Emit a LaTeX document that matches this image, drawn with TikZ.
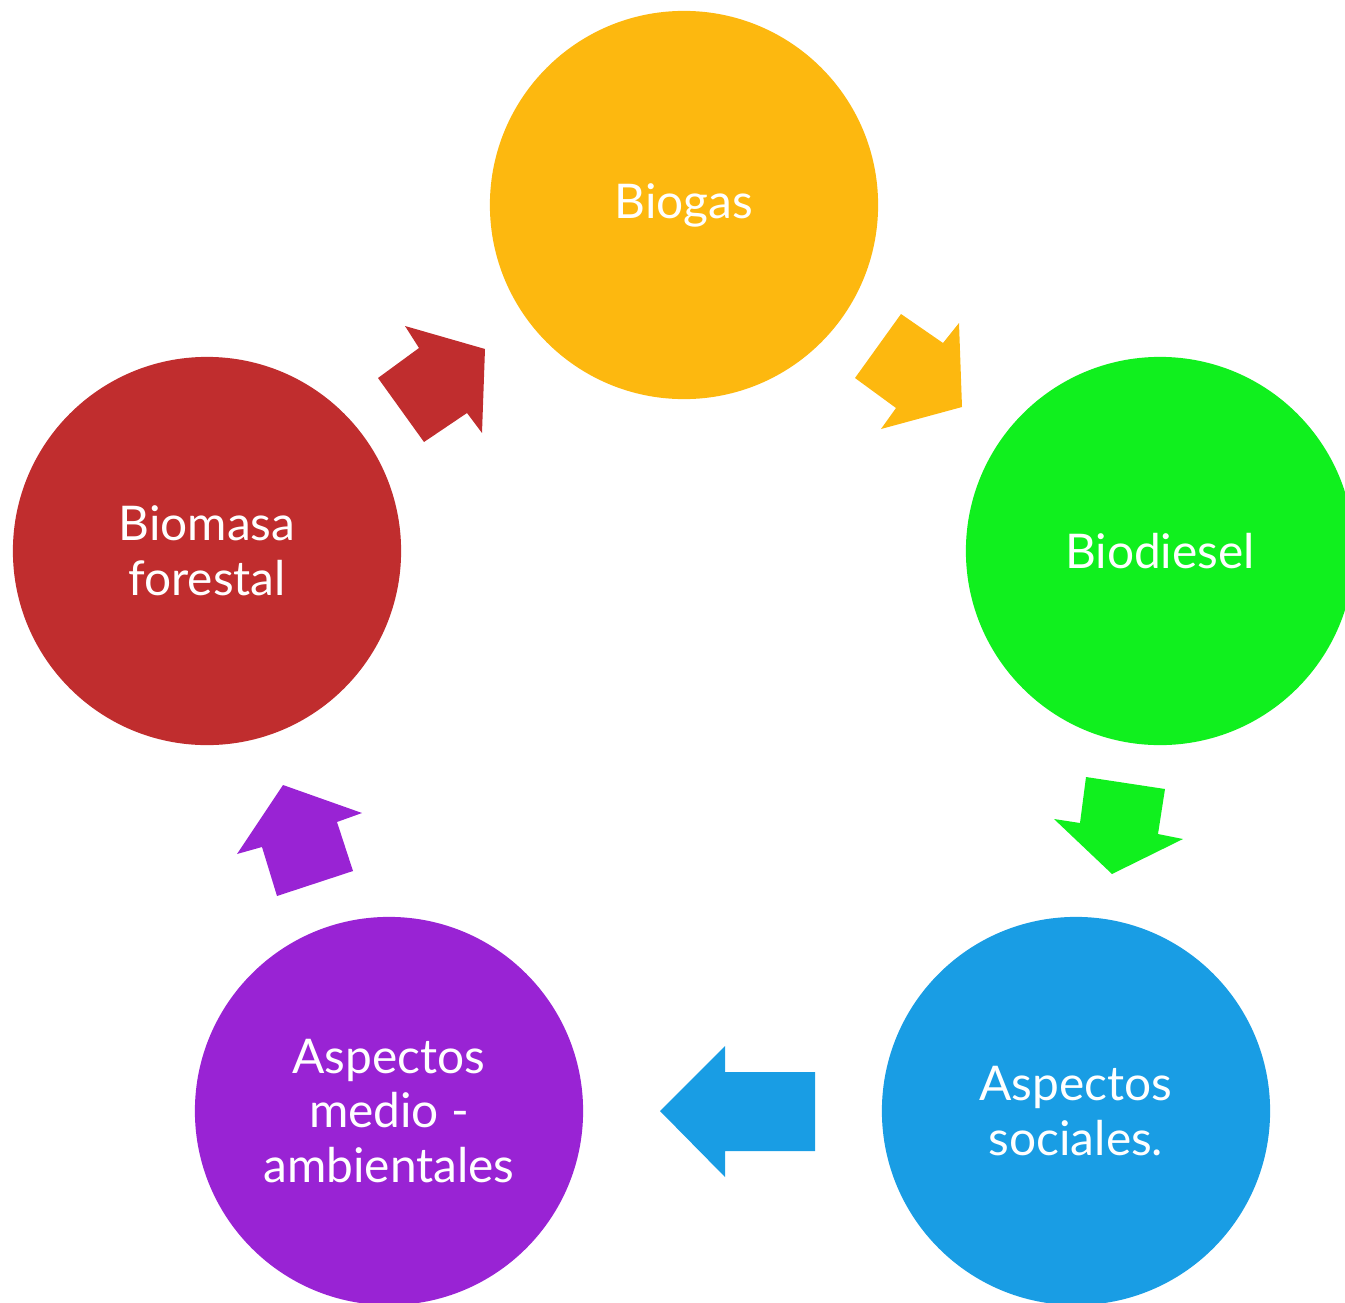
\documentclass[tikz,border=0pt]{standalone}
\usepackage{fontspec}
\setmainfont{Lato}
\usepackage{tikz}
\usetikzlibrary{positioning,shapes}
\definecolor{biogasyellow}{RGB}{253,184,15}
\definecolor{dieselgreen}{RGB}{16,240,30}
\definecolor{socialblue}{RGB}{25,157,228}
\definecolor{medpurple}{RGB}{153,35,212}
\definecolor{forestred}{RGB}{192,45,46}
\tikzset{
    %Define style for circles
    cyclenode/.style={
             circle,
             draw=none,
             minimum size=3.88cm,
             inner sep=0pt,
             align=center,
             text=white,
             font=\fontsize{13.6}{15.6}\selectfont},
    % Define block arrow style
    blockarrow/.style={
            draw=none}
}
\begin{document}
\begin{tikzpicture}[x=0.01cm, y=-0.01cm]
 \useasboundingbox (0,0) rectangle (1345,1303);
 \node[cyclenode, fill=biogasyellow] (biogas) at (684,205) {Biogas};
 \node[cyclenode, fill=dieselgreen] (biodiesel) at (1160,551) {Biodiesel};
 \node[cyclenode, fill=socialblue] (social) at (1076,1111) {Aspectos\\sociales.};
 \node[cyclenode, fill=medpurple] (ambient) at (389,1111) {Aspectos\\medio -\\ambientales};
 \node[cyclenode, fill=forestred] (biomasa) at (207,551) {Biomasa\\forestal};
 % block arrows between the circles
 \fill[blockarrow, biogasyellow] (855,378) -- (901,314) -- (943,343) -- (959,323)
       -- (962,407) -- (881,429) -- (896,408) -- cycle;
 \fill[blockarrow, dieselgreen] (1086,777) -- (1165,789) -- (1158,834) -- (1183,839)
       -- (1112,874) -- (1054,819) -- (1080,823) -- cycle;
 \fill[blockarrow, socialblue] (815,1072) -- (725,1072) -- (725,1046) -- (660,1111)
       -- (725,1177) -- (725,1151) -- (815,1151) -- cycle;
 \fill[blockarrow, medpurple] (277,896) -- (262,847) -- (237,854) -- (283,785)
       -- (362,813) -- (337,822) -- (353,871) -- cycle;
 \fill[blockarrow, forestred] (424,442) -- (378,378) -- (419,348) -- (405,326)
       -- (485,349) -- (482,433) -- (467,413) -- cycle;
\end{tikzpicture}
\end{document}
